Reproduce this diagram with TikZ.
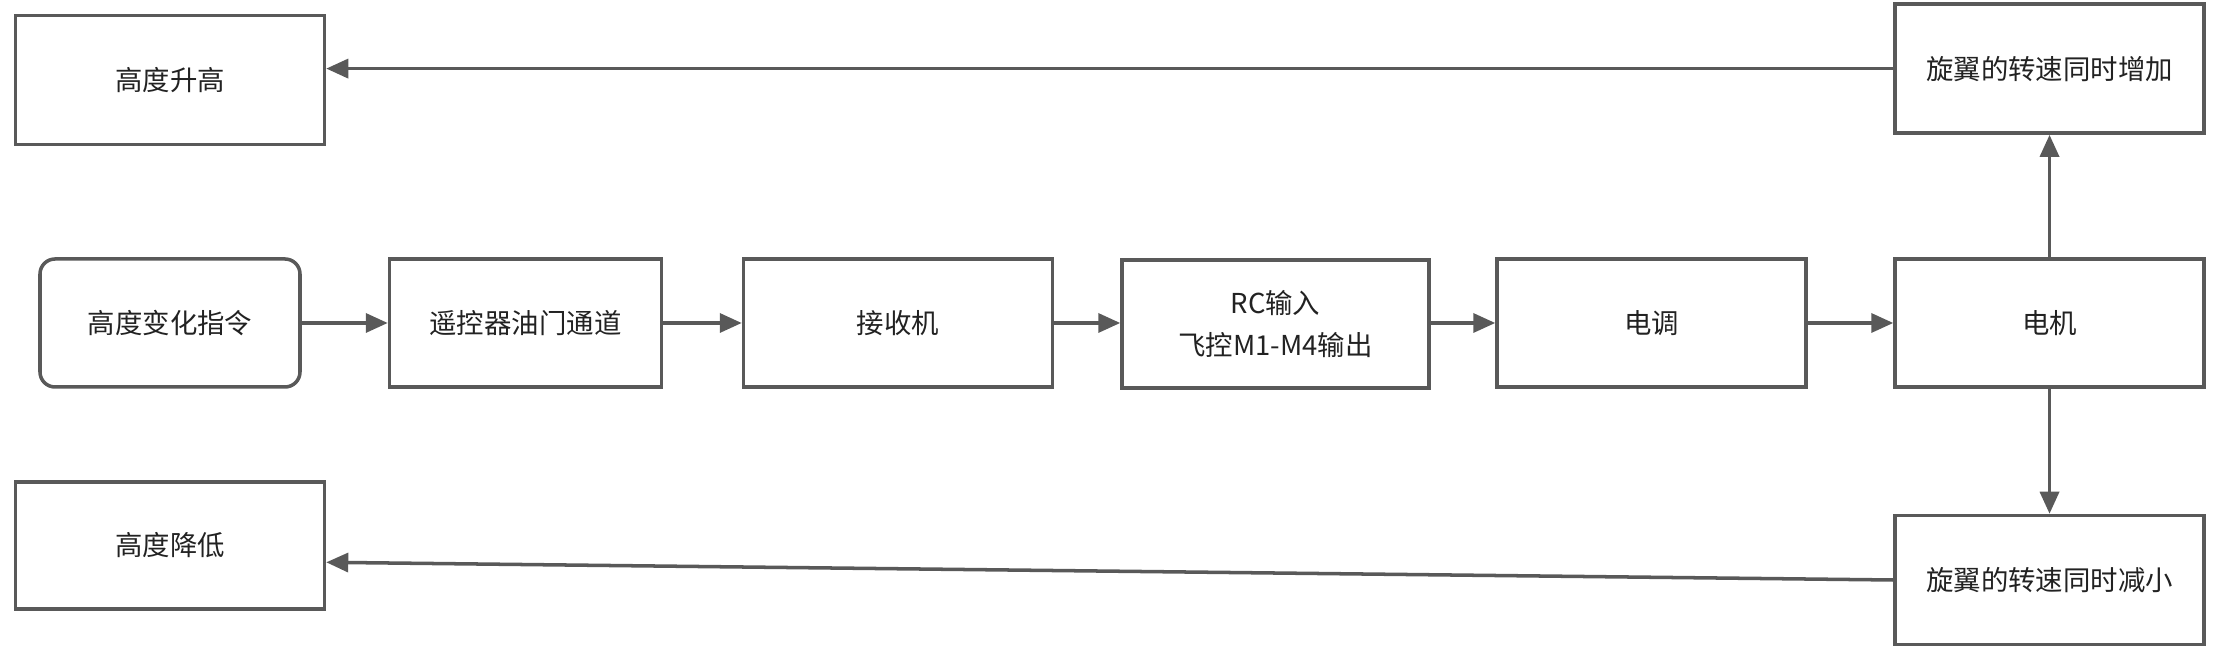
\documentclass[tikz,border=0pt]{standalone}
\usepackage{fontspec}
\setmainfont{Noto Sans CJK SC}
\usetikzlibrary{arrows.meta}
\definecolor{linegray}{HTML}{595959}
\definecolor{textgray}{HTML}{222222}
\begin{document}
\begin{tikzpicture}[
  box/.style={draw=linegray, line width=1pt, fill=white, inner sep=0pt,
    minimum width=3.09cm, minimum height=1.29cm, text=textgray,
    font=\fontsize{7.8}{12}\selectfont, align=center},
  rbox/.style={box, rounded corners=0.15cm},
  conn/.style={draw=linegray, line width=1pt, -{Triangle[length=2.2mm,width=1.9mm]}}
]
\useasboundingbox (0,0) rectangle (22.21,6.5);
\node[box] (up) at (1.70,5.70) {高度升高};
\node[box] (inc) at (20.495,5.814) {旋翼的转速同时增加};
\node[rbox, minimum width=2.60cm, minimum height=1.28cm] (cmd) at (1.70,3.27) {高度变化指令};
\node[box, minimum width=2.72cm, minimum height=1.28cm] (rc) at (5.255,3.27) {遥控器油门通道};
\node[box, minimum height=1.28cm] (rx) at (8.98,3.27) {接收机};
\node[box, minimum width=3.07cm, minimum height=1.28cm] (fc) at (12.755,3.26) {RC输入\\飞控M1-M4输出};
\node[box, minimum height=1.28cm] (esc) at (16.515,3.27) {电调};
\node[box, minimum height=1.28cm] (mot) at (20.495,3.27) {电机};
\node[box, minimum height=1.27cm] (down) at (1.70,1.047) {高度降低};
\node[box] (dec) at (20.495,0.70) {旋翼的转速同时减小};
\coordinate (dnin) at ([yshift=-0.17cm]down.east);

\draw[conn] (cmd.east) -- (rc.west);
\draw[conn] (rc.east) -- (rx.west);
\draw[conn] (rx.east) -- (rx.east -| fc.west);
\draw[conn] (fc.east |- esc.west) -- (esc.west);
\draw[conn] (esc.east) -- (mot.west);
\draw[conn] (mot.north) -- (inc.south);
\draw[conn] (mot.south) -- (dec.north);
\draw[conn] (inc.west) -- (inc.west -| up.east);
\draw[conn] (dec.west) -- (dnin);
\end{tikzpicture}
\end{document}
